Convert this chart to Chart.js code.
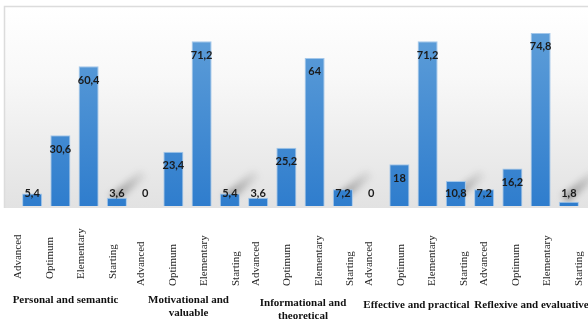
<!DOCTYPE html>
<html>
<head>
<meta charset="utf-8">
<script src="https://cdn.jsdelivr.net/npm/chart.js@4.4.1/dist/chart.umd.min.js"></script>
<style>
  html, body { margin: 0; padding: 0; background: #fff; }
</style>
</head>
<body>
<canvas id="levelsChart" width="588" height="321"></canvas>
<script>
// levels inside every component
const levels = ['Advanced', 'Optimum', 'Elementary', 'Starting'];
// component names (split in lines as in the original)
const groups = [
    ['Personal and semantic'],
    ['Motivational and', 'valuable'],
    ['Informational and', 'theoretical'],
    ['Effective and practical'],
    ['Reflexive and evaluative']
];
// percentages per component
const personal = [5.4, 30.6, 60.4, 3.6];
const motivational = [0, 23.4, 71.2, 5.4];
const informational = [3.6, 25.2, 64, 7.2];
const effective = [0, 18, 71.2, 10.8];
const reflexive = [7.2, 16.2, 74.8, 1.8];

const labels = [];
groups.forEach(() => levels.forEach(l => labels.push(l)));
const values = [...personal, ...motivational, ...informational, ...effective, ...reflexive];

// label placement tweaks (the labels in the source sit in a separate table)
const groupShift = [-9, 1, 2.5, 3, 5];
const levelBottom = [279, 286, 286, 286, 286];
const groupLineY = [[300], [300, 313], [303, 316], [305], [305]];

const fmt = v => String(v).replace('.', ',');

const decor = {
    id: 'decor',
    beforeDraw(chart) {
        const {ctx, chartArea: a} = chart;
        const left = a.left - 13, top = a.top, bottom = a.bottom + 2;
        const g = ctx.createLinearGradient(0, top, 0, bottom);
        g.addColorStop(0, '#ffffff');
        g.addColorStop(0.35, '#f8f8f8');
        g.addColorStop(1, '#e2e2e2');
        ctx.save();
        ctx.fillStyle = g;
        ctx.fillRect(left, top, chart.width - left, bottom - top);
        ctx.strokeStyle = '#dcdcdc';
        ctx.lineWidth = 1.5;
        ctx.beginPath();
        ctx.moveTo(left - 0.5, bottom);
        ctx.lineTo(left - 0.5, top - 0.5);
        ctx.lineTo(chart.width, top - 0.5);
        ctx.stroke();
        ctx.restore();
    },
    beforeDatasetsDraw(chart) {
        // the soft diagonal shadows behind the "Starting" bars
        const {ctx} = chart;
        const bars = chart.getDatasetMeta(0).data;
        ctx.save();
        ctx.filter = 'blur(3px)';
        ctx.lineWidth = 9;
        bars.forEach((bar, i) => {
            if (i % 4 !== 3) return;
            const x0 = bar.x - 4, y0 = bar.base - 7;
            const x1 = bar.x + 27, y1 = bar.base - 33;
            const sg = ctx.createLinearGradient(x0, y0, x1, y1);
            sg.addColorStop(0, 'rgba(80,80,80,0.55)');
            sg.addColorStop(1, 'rgba(80,80,80,0.05)');
            ctx.strokeStyle = sg;
            ctx.beginPath();
            ctx.moveTo(x0, y0);
            ctx.lineTo(x1, y1);
            ctx.stroke();
        });
        ctx.restore();
    },
    afterDatasetsDraw(chart) {
        const {ctx} = chart;
        const bars = chart.getDatasetMeta(0).data;
        ctx.save();
        ctx.font = 'bold 11px Lato';
        ctx.fillStyle = '#1a1a1a';
        ctx.textAlign = 'center';
        ctx.textBaseline = 'middle';
        bars.forEach((bar, i) => {
            const y = Math.min(bar.y + 14, bar.base - 13);
            ctx.fillText(fmt(values[i]), bar.x, y);
        });
        ctx.restore();
    },
    afterDraw(chart) {
        const {ctx} = chart;
        const xs = chart.scales.x;
        ctx.save();
        ctx.fillStyle = '#262626';
        ctx.font = '11px "Liberation Serif"';
        ctx.textAlign = 'left';
        ctx.textBaseline = 'middle';
        labels.forEach((l, i) => {
            const g = Math.floor(i / 4), j = i % 4;
            const x = xs.getPixelForValue(i) + groupShift[g] + (j - 1.5) * 3.3;
            ctx.save();
            ctx.translate(x, levelBottom[g]);
            ctx.rotate(-Math.PI / 2);
            ctx.fillText(l, 0, 0);
            ctx.restore();
        });
        ctx.font = 'bold 11px "Liberation Serif"';
        ctx.textAlign = 'center';
        ctx.fillStyle = '#111';
        groups.forEach((lines, g) => {
            const cx = (xs.getPixelForValue(g * 4) + xs.getPixelForValue(g * 4 + 3)) / 2 + groupShift[g];
            lines.forEach((t, k) => ctx.fillText(t, cx, groupLineY[g][k]));
        });
        ctx.restore();
    }
};

const ctx = document.getElementById('levelsChart').getContext('2d');
new Chart(ctx, {
    type: 'bar',
    data: {
        labels: labels,
        datasets: [{
            data: values,
            backgroundColor: function(context) {
                const a = context.chart.chartArea;
                if (!a) return '#4a8fd4';
                const g = context.chart.ctx.createLinearGradient(0, a.top, 0, a.bottom);
                g.addColorStop(0, '#64a2da');
                g.addColorStop(1, '#2f7dcd');
                return g;
            },
            borderColor: '#a3c7ea',
            borderWidth: 1,
            barPercentage: 0.71,
            categoryPercentage: 1
        }]
    },
    options: {
        responsive: false,
        animation: false,
        layout: { padding: { left: 18, right: 5, top: 7, bottom: 0 } },
        plugins: {
            legend: { display: false },
            tooltip: { enabled: false }
        },
        scales: {
            x: {
                grid: { display: false },
                border: { display: false },
                ticks: { display: false },
                afterFit: function(scale) { scale.height = 115; }
            },
            y: {
                display: false,
                min: 0,
                max: 86
            }
        }
    },
    plugins: [decor]
});
</script>
</body>
</html>
